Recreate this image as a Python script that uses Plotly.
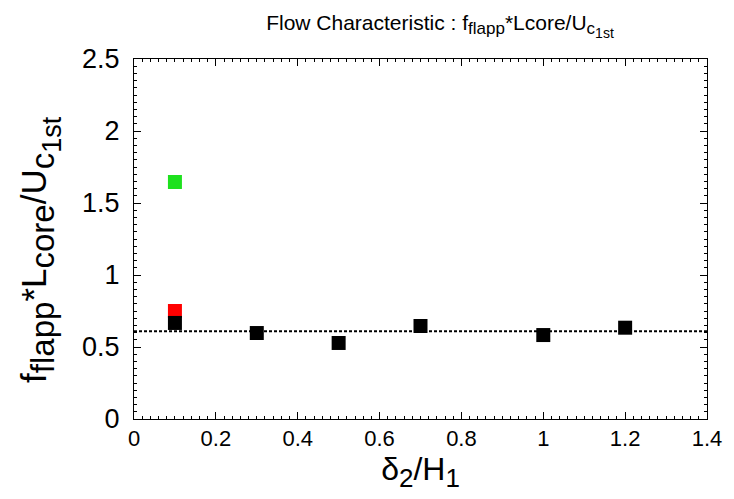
import plotly.graph_objects as go

# Data
black_x = [0.1, 0.3, 0.5, 0.7, 1.0, 1.2]
black_y = [0.667, 0.597, 0.528, 0.646, 0.583, 0.634]
red_x = [0.1]
red_y = [0.75]
green_x = [0.1]
green_y = [1.646]
mean_level = 0.61
line_x = [0.0, 1.4]

x_ticks = [0, 0.2, 0.4, 0.6, 0.8, 1, 1.2, 1.4]
x_ticklabels = ["0", "0.2", "0.4", "0.6", "0.8", "1", "1.2", "1.4"]
y_ticks = [0, 0.5, 1, 1.5, 2, 2.5]
y_ticklabels = ["0", "0.5", "1", "1.5", "2", "2.5"]

FONT = "Liberation Sans, Arial, Helvetica, sans-serif"


def sub(text, px):
    return "<sub><span style='font-size:%dpx'>%s</span></sub>" % (px, text)


fig = go.Figure()
fig.add_trace(go.Scatter(x=line_x, y=[mean_level, mean_level], mode="lines",
                         line=dict(color="black", width=2, dash="3px,2px"),
                         showlegend=False, hoverinfo="skip"))
fig.add_trace(go.Scatter(x=red_x, y=red_y, mode="markers",
                         marker=dict(symbol="square", size=14, color="#ff0000", line=dict(width=0)),
                         showlegend=False))
fig.add_trace(go.Scatter(x=black_x, y=black_y, mode="markers",
                         marker=dict(symbol="square", size=14, color="#000000", line=dict(width=0)),
                         showlegend=False))
fig.add_trace(go.Scatter(x=green_x, y=green_y, mode="markers",
                         marker=dict(symbol="square", size=14, color="#1ee11e", line=dict(width=0)),
                         showlegend=False))

axis_common = dict(
    showgrid=False, zeroline=False, showline=True, linecolor="black", linewidth=1,
    mirror="ticks", ticks="inside", ticklen=7, tickwidth=1, tickcolor="black",
)

y_title = ("f" + sub("flapp", 33) + "*L" + sub("core", 33)
           + "/U" + "<sub><span style='font-size:33px'>c<sub><span style='font-size:27px'>1st</span></sub></span></sub>")
x_title = "δ" + sub("2", 26) + "/H" + sub("1", 26)
main_title = ("Flow Characteristic : f" + sub("flapp", 17) + "*Lcore/U"
              + "<sub><span style='font-size:17px'>c<sub><span style='font-size:14px'>1st</span></sub></span></sub>")

fig.update_xaxes(range=[0, 1.4], tickvals=x_ticks, ticktext=x_ticklabels,
                 tickfont=dict(family=FONT, size=22, color="black"),
                 minor=dict(dtick=0.02, ticks="inside", ticklen=3, tickcolor="black", showgrid=False),
                 title=dict(text=x_title, font=dict(family=FONT, size=32, color="black"), standoff=4),
                 **axis_common)
fig.update_yaxes(range=[0, 2.5], tickvals=y_ticks, ticktext=y_ticklabels,
                 tickfont=dict(family=FONT, size=27, color="black"),
                 ticklabelstandoff=8,
                 minor=dict(dtick=0.05, ticks="inside", ticklen=3, tickcolor="black", showgrid=False),
                 **axis_common)

# y-axis title as a rotated annotation so that its placement can be controlled
fig.add_annotation(text=y_title, textangle=-90, showarrow=False,
                   xref="paper", yref="paper", x=-0.163, y=0.095,
                   xanchor="center", yanchor="bottom",
                   font=dict(family=FONT, size=35, color="black"))

# body has an 8px default margin in the page, so the figure is shifted by 8px
fig.update_layout(
    width=726, height=491,
    margin=dict(l=126, r=22, t=51, b=80),
    paper_bgcolor="white", plot_bgcolor="white",
    title=dict(text=main_title, font=dict(family=FONT, size=21, color="black"),
               x=0.595, xanchor="center", y=0.985, yanchor="top"),
)

fig.write_html("out.html")
